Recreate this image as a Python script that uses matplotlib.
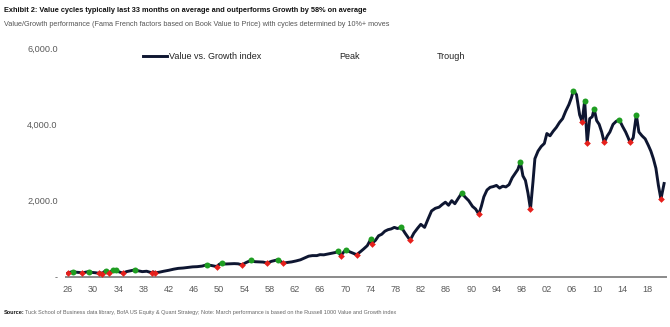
"""Value vs. Growth index with peak / trough cycle markers."""
import matplotlib

matplotlib.use("Agg")
import matplotlib.pyplot as plt
from matplotlib.ticker import FuncFormatter

# Value vs. Growth index (year, level)
years = [
    1926.0, 1926.4, 1926.8, 1927.3, 1927.8, 1928.3, 1928.8, 1929.3, 1929.8, 1930.4,
    1931.0, 1931.2, 1931.4, 1931.7, 1932.0, 1932.3, 1932.6, 1932.9, 1933.2, 1933.4,
    1933.6, 1934.1, 1934.7, 1935.3, 1935.9, 1936.6, 1937.2, 1937.8, 1938.5, 1939.3,
    1939.55, 1939.8, 1940.5, 1941.2, 1942.0, 1942.8, 1943.5, 1944.3, 1945.0, 1945.8,
    1946.5, 1947.3, 1948.0, 1948.8, 1949.6, 1950.0, 1950.4, 1951.0, 1951.7, 1952.4,
    1953.0, 1953.6, 1954.3, 1955.0, 1955.7, 1956.4, 1957.0, 1957.6, 1958.3, 1959.3,
    1959.8, 1960.2, 1960.8, 1961.5, 1962.2, 1962.9, 1963.6, 1964.2, 1964.8, 1965.5,
    1966.0, 1966.6, 1967.2, 1967.8, 1968.4, 1968.9, 1969.3, 1969.7, 1970.1, 1970.7,
    1971.3, 1971.8, 1972.4, 1972.9, 1973.5, 1974.1, 1974.2, 1974.8, 1975.3, 1975.8,
    1976.3, 1976.8, 1977.3, 1977.8, 1978.3, 1978.9, 1979.5, 1980.3, 1980.9, 1981.5,
    1982.0, 1982.6, 1983.1, 1983.7, 1984.3, 1984.9, 1985.4, 1985.9, 1986.4, 1986.9,
    1987.4, 1987.9, 1988.5, 1989.0, 1989.6, 1990.2, 1990.7, 1991.2, 1991.6, 1992.0,
    1992.5, 1993.0, 1993.5, 1994.0, 1994.5, 1995.0, 1995.5, 1996.0, 1996.5, 1997.0,
    1997.4, 1997.8, 1998.2, 1998.6, 1999.0, 1999.4, 1999.8, 2000.1, 2000.6, 2001.1,
    2001.6, 2002.0, 2002.5, 2003.0, 2003.5, 2004.0, 2004.5, 2005.0, 2005.5, 2005.9,
    2006.2, 2006.7, 2007.2, 2007.6, 2008.0, 2008.4, 2008.8, 2009.2, 2009.5, 2009.9,
    2010.3, 2010.7, 2011.1, 2011.6, 2012.0, 2012.5, 2013.0, 2013.5, 2014.0, 2014.5,
    2014.9, 2015.2, 2015.7, 2016.2, 2016.6, 2017.1, 2017.6, 2018.1, 2018.5, 2018.9,
    2019.3, 2019.7, 2020.1, 2020.6,
]
index_values = [
    100, 125, 140, 125, 118, 100, 125, 140, 120, 110,
    95, 110, 85, 130, 165, 130, 110, 150, 175, 150,
    170, 135, 100, 140, 160, 185, 160, 140, 150, 110,
    135, 105, 125, 150, 175, 205, 225, 235, 250, 265,
    270, 285, 318, 300, 273, 330, 363, 340, 345, 350,
    345, 318, 380, 432, 400, 395, 390, 363, 410, 450,
    400, 363, 380, 395, 420, 450, 500, 545, 560, 560,
    585, 580, 600, 620, 640, 670, 556, 640, 715, 660,
    620, 583, 660, 730, 820, 1000, 875, 960, 1080, 1120,
    1200, 1240, 1260, 1300, 1270, 1306, 1150, 962, 1150, 1280,
    1380, 1300, 1500, 1730, 1800, 1830, 1900, 1960, 1880, 2000,
    1920, 2050, 2200, 2100, 2000, 1850, 1780, 1643, 1850, 2100,
    2280, 2350, 2370, 2400, 2330, 2380, 2360, 2420, 2600, 2720,
    2820, 3013, 2650, 2530, 2200, 1775, 2500, 3100, 3300, 3420,
    3500, 3760, 3700, 3820, 3920, 4050, 4150, 4350, 4520, 4700,
    4885, 4780, 4250, 4070, 4620, 3520, 4150, 4200, 4410, 4100,
    4000, 3800, 3525, 3700, 3800, 4000, 4080, 4120, 3950, 3800,
    3650, 3525, 3650, 4250, 3800, 3700, 3620, 3450, 3300, 3100,
    2850, 2400, 2040, 2450,
]

# cycle turning points (10%+ moves)
peak_years = [1926.8, 1929.3, 1932.0, 1933.2, 1933.6, 1936.6, 1948.0, 1950.4, 1955.0,
              1959.3, 1968.9, 1970.1, 1974.1, 1978.9, 1988.5, 1997.8, 2006.2, 2008.0,
              2009.5, 2013.5, 2016.2]
peak_values = [140, 140, 165, 175, 170, 185, 318, 363, 432,
               450, 670, 715, 1000, 1306, 2200, 3013, 4885, 4620,
               4410, 4120, 4250]
trough_years = [1926.0, 1928.3, 1931.0, 1931.4, 1932.6, 1934.7, 1939.3, 1939.8, 1949.6,
                1953.6, 1957.6, 1960.2, 1969.3, 1971.8, 1974.2, 1980.3, 1991.2, 1999.4,
                2007.6, 2008.4, 2011.1, 2015.2, 2020.1]
trough_values = [100, 100, 95, 85, 110, 100, 110, 105, 273,
                 318, 363, 363, 556, 583, 875, 962, 1643, 1775,
                 4070, 3520, 3525, 3525, 2040]

x_ticks = list(range(1926, 2019, 4))
y_ticks = [0, 2000, 4000, 6000]

TITLE = ("Exhibit 2: Value cycles typically last 33 months on average and "
         "outperforms Growth by 58% on average")
SUBTITLE = ("Value/Growth performance (Fama French factors based on Book Value to Price) "
            "with cycles determined by 10%+ moves")
SOURCE = ("Tuck School of Business data library, BofA US Equity & Quant Strategy; "
          "Note: March performance is based on the Russell 1000 Value and Growth index")

NARROW = ["Liberation Sans Narrow", "Liberation Sans", "DejaVu Sans"]
ARIAL = ["Liberation Sans", "DejaVu Sans"]
LINE_COLOR = "#0e1631"
PEAK_COLOR = "#1f9e22"
TROUGH_COLOR = "#e6201c"
TICK_COLOR = "#5a5a5a"

fig = plt.figure(figsize=(6.7, 3.27), dpi=100)
ax = fig.add_axes([0.0985, 0.153, 0.8955, 0.700])

ax.plot(years, index_values, color=LINE_COLOR, lw=2.1, solid_joinstyle="round", zorder=2)
ax.plot(peak_years, peak_values, "o", color=PEAK_COLOR, ms=4.3, mec="none", zorder=3)
ax.plot(trough_years, trough_values, "D", color=TROUGH_COLOR, ms=3.4, mec="none", zorder=3)

ax.set_xlim(1925.7, 2020.9)
ax.set_ylim(0, 6000)
ax.set_xticks(x_ticks)
ax.xaxis.set_major_formatter(FuncFormatter(lambda v, _: f"{int(v) % 100:02d}"))
ax.set_yticks(y_ticks)
ax.yaxis.set_major_formatter(FuncFormatter(lambda v, _: "-" if v == 0 else f"{v:,.1f}"))
ax.tick_params(length=0, labelsize=6.6, labelcolor=TICK_COLOR, pad=6)
ax.tick_params(axis="y", pad=6)
for lbl in ax.get_xticklabels() + ax.get_yticklabels():
    lbl.set_family(ARIAL)

for side in ("top", "right", "left"):
    ax.spines[side].set_visible(False)
ax.spines["bottom"].set_color("#8a8a8a")
ax.spines["bottom"].set_linewidth(1.4)

# legend drawn as a row of entries across the top of the plot
ax.plot([0.128, 0.168], [0.965, 0.965], transform=ax.transAxes, color=LINE_COLOR,
        lw=2.1, clip_on=False)
ax.text(0.171, 0.965, "Value vs. Growth index", transform=ax.transAxes, fontsize=6.5,
        family=ARIAL, color="#222222", va="center")
ax.text(0.455, 0.965, "Peak", transform=ax.transAxes, fontsize=6.5,
        family=ARIAL, color="#222222", va="center")
ax.text(0.618, 0.965, "Trough", transform=ax.transAxes, fontsize=6.5,
        family=ARIAL, color="#222222", va="center")

fig.text(0.006, 0.978, TITLE, fontsize=5.3, fontweight="bold", family=NARROW,
         color="#111111", va="top")
fig.text(0.006, 0.935, SUBTITLE, fontsize=5.2, family=NARROW, color="#555555", va="top")
fig.text(0.006, 0.045, "Source:", fontsize=4.0, fontweight="bold", family=NARROW,
         color="#111111", va="center")
fig.text(0.038, 0.045, SOURCE, fontsize=4.0, family=NARROW, color="#666666", va="center")

fig.savefig("out.png", dpi=100)
plt.close(fig)
